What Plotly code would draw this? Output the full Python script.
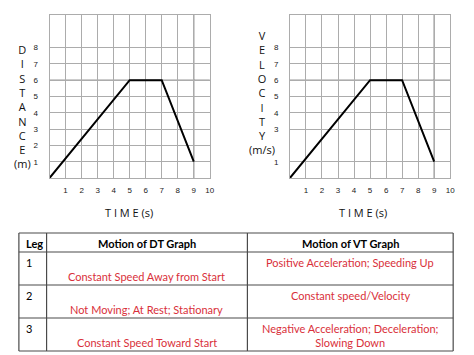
import plotly.graph_objects as go

# page body has an 8px margin; figure is sized/offset to compensate
OFF = 8
W, H = 474 - OFF, 355 - OFF

# ---------------- data ----------------
time_s = [0, 5, 7, 9]
distance_m = [0, 6, 6, 1]
velocity_ms = [0, 6, 6, 1]

x_ticks = [1, 2, 3, 4, 5, 6, 7, 8, 9, 10]
dt_y_ticks = [1, 2, 3, 4, 5, 6, 7, 8]
vt_y_ticks = [1, 3, 4, 5, 6, 7, 8]
dark_grid_y = [5, 6]
dark_grid_x = [9]

dt_title_letters = ["D", "I", "S", "T", "A", "N", "C", "E", "(m)"]
vt_title_letters = ["V", "E", "L", "O", "C", "I", "T", "Y", "(m/s)"]
x_title = "T I M E (s)"

table_header = ["Leg", "Motion of DT Graph", "Motion of VT Graph"]
legs = ["1", "2", "3"]
dt_motion = ["Constant Speed Away from Start",
             "Not Moving; At Rest; Stationary",
             "Constant Speed Toward Start"]
vt_motion = ["Positive Acceleration; Speeding Up",
             "Constant speed/Velocity",
             "Negative Acceleration; Deceleration;<br>Slowing Down"]

# ---------------- helpers ----------------
def px_x(p):
    return (p - OFF) / W

def px_y(p):
    return 1 - (p - OFF) / H

fig = go.Figure()

fig.add_trace(go.Scatter(x=time_s, y=distance_m, mode="lines",
                         line=dict(color="black", width=2),
                         xaxis="x", yaxis="y", showlegend=False, hoverinfo="skip"))
fig.add_trace(go.Scatter(x=time_s, y=velocity_ms, mode="lines",
                         line=dict(color="black", width=2),
                         xaxis="x2", yaxis="y2", showlegend=False, hoverinfo="skip"))

axis_common = dict(range=[0, 10], dtick=1, showgrid=True, gridcolor="#acacac",
                   gridwidth=1, zeroline=False, showline=True, mirror=True,
                   linecolor="#acacac", linewidth=1, ticks="",
                   tickfont=dict(family="Liberation Sans Narrow, Arial Narrow, sans-serif",
                                 size=8, color="#222"), fixedrange=True)

fig.update_layout(
    width=W, height=H, margin=dict(l=0, r=0, t=0, b=0),
    paper_bgcolor="white", plot_bgcolor="white",
    xaxis=dict(axis_common, domain=[px_x(50), px_x(212)], anchor="y",
               tickmode="array", tickvals=x_ticks, ticklabelstandoff=4),
    yaxis=dict(axis_common, domain=[px_y(178), px_y(15)], anchor="x",
               tickmode="array", tickvals=dt_y_ticks, ticklabelstandoff=9),
    xaxis2=dict(axis_common, domain=[px_x(293), px_x(455)], anchor="y2",
                tickmode="array", tickvals=x_ticks, ticklabelstandoff=4),
    yaxis2=dict(axis_common, domain=[px_y(178), px_y(15)], anchor="x2",
                tickmode="array", tickvals=vt_y_ticks, ticklabelstandoff=9),
)

# darker grid lines
for xr, yr in (("x", "y"), ("x2", "y2")):
    for gy in dark_grid_y:
        fig.add_shape(type="line", xref=xr + " domain", yref=yr, x0=0, x1=1, y0=gy, y1=gy,
                      line=dict(color="#5a5a5a", width=1), layer="below")
    for gx in dark_grid_x:
        fig.add_shape(type="line", xref=xr, yref=yr + " domain", x0=gx, x1=gx, y0=0, y1=1,
                      line=dict(color="#5a5a5a", width=1), layer="below")

title_font = dict(family="Open Sans, DejaVu Sans, sans-serif", size=11, color="#111")
fig.add_annotation(text="<br>".join(dt_title_letters), xref="paper", yref="paper",
                   x=px_x(23), y=px_y(40), xanchor="center", yanchor="top",
                   showarrow=False, font=title_font, align="center")
fig.add_annotation(text="<br>".join(vt_title_letters), xref="paper", yref="paper",
                   x=px_x(265), y=px_y(26), xanchor="center", yanchor="top",
                   showarrow=False, font=title_font, align="center")
for cx in (130, 367):
    fig.add_annotation(text=x_title, xref="paper", yref="paper",
                       x=px_x(cx), y=px_y(212), xanchor="center", yanchor="middle",
                       showarrow=False, font=title_font)

# ---------------- table (shapes + annotations) ----------------
tbl_left, tbl_right = 19, 458
col_edges = [tbl_left, 47, 250, tbl_right]
tbl_top, head_bottom, row_h = 233, 252, 33
row_edges = [tbl_top, head_bottom] + [head_bottom + row_h * (i + 1) for i in range(len(legs))]
border = dict(color="#4a4a4a", width=1.2)

for xe in col_edges:
    fig.add_shape(type="line", xref="paper", yref="paper",
                  x0=px_x(xe), x1=px_x(xe), y0=px_y(row_edges[0]), y1=px_y(row_edges[-1]),
                  line=border)
for ye in row_edges:
    fig.add_shape(type="line", xref="paper", yref="paper",
                  x0=px_x(tbl_left), x1=px_x(tbl_right), y0=px_y(ye), y1=px_y(ye),
                  line=border)

tfont = "Lato, Carlito, sans-serif"
red = "#d9303a"
head_y = (tbl_top + head_bottom) / 2 + 1
fig.add_annotation(text="<b>%s</b>" % table_header[0], xref="paper", yref="paper",
                   x=px_x(col_edges[0] + 5), y=px_y(head_y), xanchor="left", yanchor="middle",
                   showarrow=False, font=dict(family=tfont, size=11, color="black"))
for j in (1, 2):
    fig.add_annotation(text="<b>%s</b>" % table_header[j], xref="paper", yref="paper",
                       x=px_x((col_edges[j] + col_edges[j + 1]) / 2), y=px_y(head_y),
                       xanchor="center", yanchor="middle", showarrow=False,
                       font=dict(family=tfont, size=11, color="black"))

for i in range(len(legs)):
    top = row_edges[i + 1]
    fig.add_annotation(text=legs[i], xref="paper", yref="paper",
                       x=px_x(col_edges[0] + 5), y=px_y(top + 2), xanchor="left", yanchor="top",
                       showarrow=False, font=dict(family=tfont, size=11, color="black"))
    fig.add_annotation(text=dt_motion[i], xref="paper", yref="paper",
                       x=px_x((col_edges[1] + col_edges[2]) / 2), y=px_y(top + 24),
                       xanchor="center", yanchor="middle", showarrow=False,
                       font=dict(family=tfont, size=11, color=red))
    fig.add_annotation(text=vt_motion[i], xref="paper", yref="paper",
                       x=px_x((col_edges[2] + col_edges[3]) / 2), y=px_y(top + 2),
                       xanchor="center", yanchor="top", showarrow=False,
                       font=dict(family=tfont, size=11, color=red))

fig.write_html("out.html")
